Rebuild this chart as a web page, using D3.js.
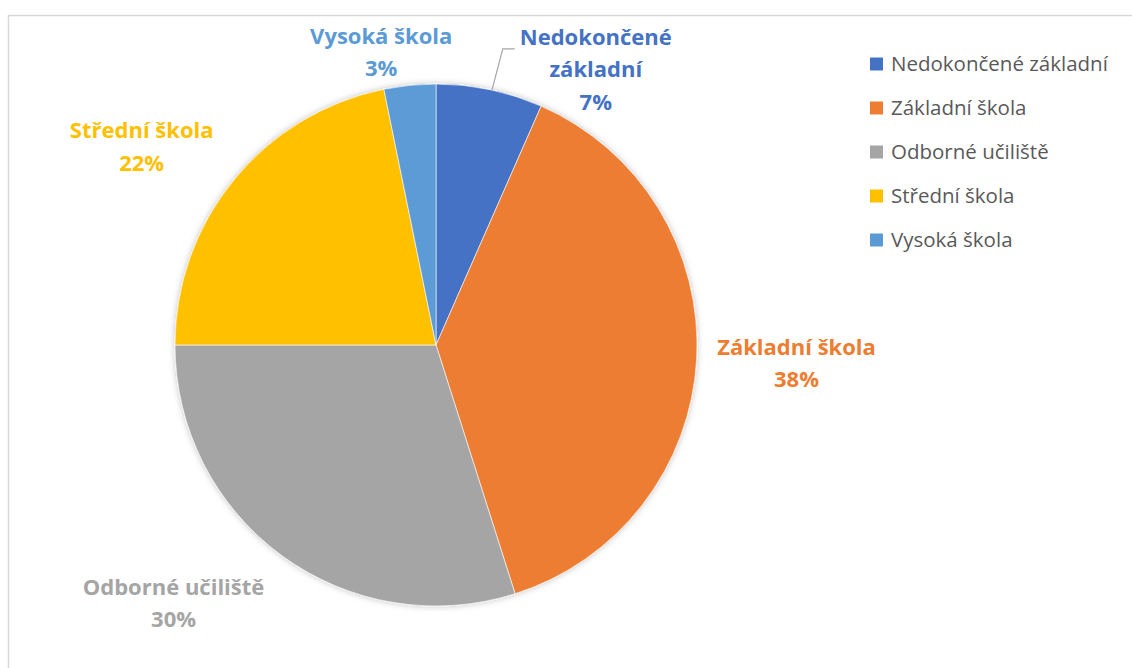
<!DOCTYPE html>
<html>
<head>
<meta charset="utf-8">
<script src="https://cdn.jsdelivr.net/npm/d3@7"></script>
<style>
  html, body { margin: 0; padding: 0; background: #fff; }
  svg { display: block; }
</style>
</head>
<body>
<svg id="chart" width="1132" height="668"></svg>
<script>
// ---- data ----
const categories = ["Nedokončené základní", "Základní škola", "Odborné učiliště", "Střední škola", "Vysoká škola"];
const labelLines = [["Nedokončené", "základní"], ["Základní škola"], ["Odborné učiliště"], ["Střední škola"], ["Vysoká škola"]];
const values = [6.6, 38.5, 29.9, 21.8, 3.2];
const percentLabels = ["7%", "38%", "30%", "22%", "3%"];
const colors = ["#4472C4", "#ED7D31", "#A5A5A5", "#FFC000", "#5B9BD5"];

// ---- layout ----
const W = 1132, H = 668;
const cx = 436, cy = 345, R = 261;
const labelPolar = [
  { r: 318.6, a: 30.1 },
  { r: 361, a: 92.9 },
  { r: 368, a: 225.5 },
  { r: 355, a: 304 },
  { r: 298, a: 349.4 }
];
const lineH = 32.5;
const labelFont = "'Open Sans', sans-serif";

const svg = d3.select("#chart");

svg.append("rect")
  .attr("x", 8.5).attr("y", 15.5)
  .attr("width", W + 20).attr("height", H + 20)
  .attr("fill", "none").attr("stroke", "#D9D9D9").attr("stroke-width", 1.5);

const defs = svg.append("defs");
const f = defs.append("filter").attr("id", "shadow")
  .attr("x", "-10%").attr("y", "-10%").attr("width", "120%").attr("height", "120%");
f.append("feDropShadow").attr("dx", 0).attr("dy", 0).attr("stdDeviation", 3)
  .attr("flood-color", "#000").attr("flood-opacity", 0.25);

const pie = d3.pie().sort(null).value(d => d)(values);
const arc = d3.arc().innerRadius(0).outerRadius(R);

const g = svg.append("g").attr("transform", `translate(${cx},${cy})`);
const slices = g.append("g").attr("filter", "url(#shadow)");
slices.selectAll("path").data(pie).join("path")
  .attr("d", arc)
  .attr("fill", (d, i) => colors[i])
  .attr("stroke", "#fff").attr("stroke-width", 0.6);

const rad = a => a * Math.PI / 180;
pie.forEach((d, i) => {
  const lp = labelPolar[i];
  const x = lp.r * Math.sin(rad(lp.a));
  const y = -lp.r * Math.cos(rad(lp.a));
  const lines = labelLines[i].concat([percentLabels[i]]);
  const t = g.append("text")
    .attr("text-anchor", "middle")
    .attr("font-family", labelFont)
    .attr("font-weight", "bold")
    .attr("font-size", 22)
    .attr("fill", colors[i]);
  const n = lines.length;
  lines.forEach((ln, k) => {
    t.append("tspan")
      .attr("x", x)
      .attr("y", y + (k - (n - 1) / 2) * lineH)
      .attr("dy", "0.36em")
      .text(ln);
  });
});

{
  const d = pie[0];
  const mid = (d.startAngle + d.endAngle) / 2;
  const a0 = mid + rad(0.5);
  const p0 = [R * Math.sin(a0), -R * Math.cos(a0)];
  const lp = labelPolar[0];
  const lx = lp.r * Math.sin(rad(lp.a));
  const ly = -lp.r * Math.cos(rad(lp.a));
  const topY = ly - lineH + 12;
  const p2 = [lx - 81, topY];
  const p1 = [p2[0] - 12, topY];
  g.append("polyline")
    .attr("points", [p0, p1, p2].map(p => p.join(",")).join(" "))
    .attr("fill", "none").attr("stroke", "#A6A6A6").attr("stroke-width", 1.2);
}

const legend = svg.append("g").attr("transform", "translate(870,64)");
categories.forEach((c, i) => {
  const row = legend.append("g").attr("transform", `translate(0,${i * 44})`);
  row.append("rect").attr("x", 0).attr("y", -6.5).attr("width", 13).attr("height", 13).attr("fill", colors[i]);
  row.append("text").attr("x", 21).attr("y", 0).attr("dy", "0.36em")
    .attr("font-family", labelFont).attr("font-size", 20.5).attr("fill", "#595959")
    .text(c);
});
</script>
</body>
</html>
